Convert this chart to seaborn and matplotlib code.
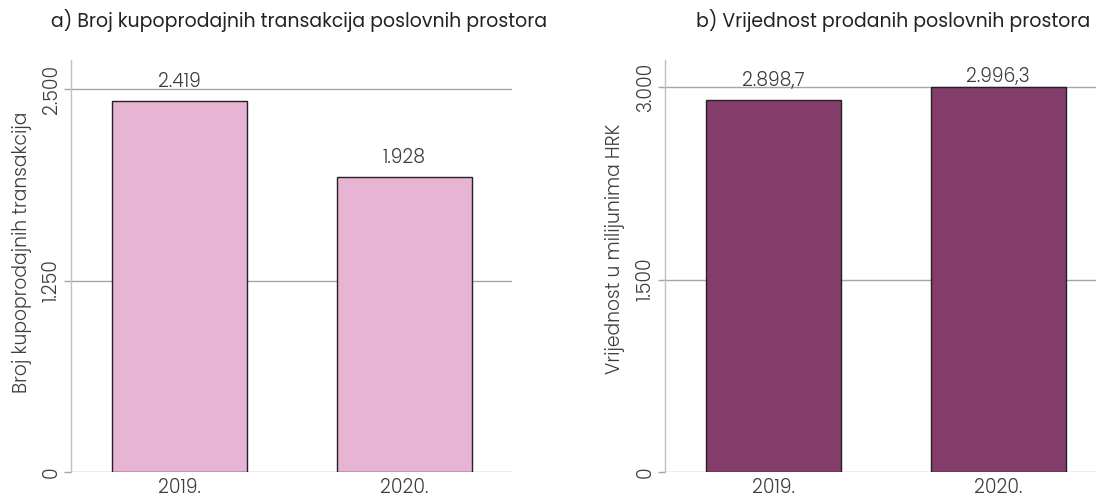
import matplotlib
matplotlib.use("Agg")
import matplotlib.pyplot as plt
import seaborn as sns

# Data
years = ["2019.", "2020."]
transactions = [2419, 1928]
value_mhrk = [2898.7, 2996.3]
transaction_labels = ["2.419", "1.928"]
value_labels = ["2.898,7", "2.996,3"]

left_ticks = [0, 1250, 2500]
left_tick_labels = ["0", "1.250", "2.500"]
right_ticks = [0, 1500, 3000]
right_tick_labels = ["0", "1.500", "3.000"]

title_a = "a) Broj kupoprodajnih transakcija poslovnih prostora"
title_b = "b) Vrijednost prodanih poslovnih prostora"
ylabel_a = "Broj kupoprodajnih transakcija"
ylabel_b = "Vrijednost u milijunima HRK"

sns.set_theme(style="white")
plt.rcParams["font.family"] = ["Poppins", "DejaVu Sans"]

W, H = 1096, 498
fig = plt.figure(figsize=(W / 100, H / 100), dpi=100)

text_color = "#3d3d3d"
grid_color = "#a6a6a6"
FS = 13.5
LIGHT = 300


def px_axes(x0, x1, y_top, y_bot):
    return fig.add_axes([x0 / W, 1 - y_bot / H, (x1 - x0) / W, (y_bot - y_top) / H])


def draw_panel(ax, values, labels, color, ticks, tick_labels, ymax, ylabel, label_xy):
    sns.barplot(x=years, y=values, ax=ax, color=color, width=0.6,
                edgecolor="#222222", linewidth=1.0, saturation=1)
    ax.set_xlim(-0.48, 1.48)
    ax.set_ylim(0, ymax)
    ax.set_yticks(ticks)
    ax.set_yticklabels(tick_labels, rotation=90, va="center",
                       fontsize=FS, color=text_color, fontweight=LIGHT)
    ax.tick_params(axis="y", length=5, color=grid_color, width=1, pad=1.5, left=True)
    ax.tick_params(axis="x", length=0, pad=4.5, labelsize=FS, labelcolor=text_color)
    for lab in ax.get_xticklabels():
        lab.set_fontweight(LIGHT)
    for t in ticks:
        ax.axhline(t, color=grid_color, linewidth=1, zorder=0)
    for s in ["top", "right", "bottom"]:
        ax.spines[s].set_visible(False)
    ax.spines["left"].set_color("#c0c0c0")
    ax.spines["left"].set_linewidth(1)
    ax.set_xlabel("")
    ax.set_ylabel(ylabel, fontsize=FS, color=text_color, fontweight=LIGHT)
    ax.yaxis.set_label_coords(*label_xy)
    # value labels sit above each bar, but never higher than the top band
    for i, (v, lab) in enumerate(zip(values, labels)):
        y_frac = min(v / ymax + 0.046, 0.958)
        ax.text(i, y_frac, lab, transform=ax.get_xaxis_transform(),
                ha="center", va="center", fontsize=FS,
                color=text_color, fontweight=LIGHT)


ax1 = px_axes(71, 512, 60, 472)
draw_panel(ax1, transactions, transaction_labels, "#e8b4d3",
           left_ticks, left_tick_labels, 2500 * 412 / 383, ylabel_a,
           (-0.088, 0.534))

ax2 = px_axes(665, 1106, 60, 472)
draw_panel(ax2, value_mhrk, value_labels, "#843c6a",
           right_ticks, right_tick_labels, 3000 * 412 / 385, ylabel_b,
           (-0.091, 0.541))

fig.text(299 / W, 1 - 21 / H, title_a, ha="center", va="center",
         fontsize=13.6, color="#222222", fontweight=400)
fig.text(893 / W, 1 - 21 / H, title_b, ha="center", va="center",
         fontsize=13.6, color="#222222", fontweight=400)

fig.savefig("out.png", dpi=100)
